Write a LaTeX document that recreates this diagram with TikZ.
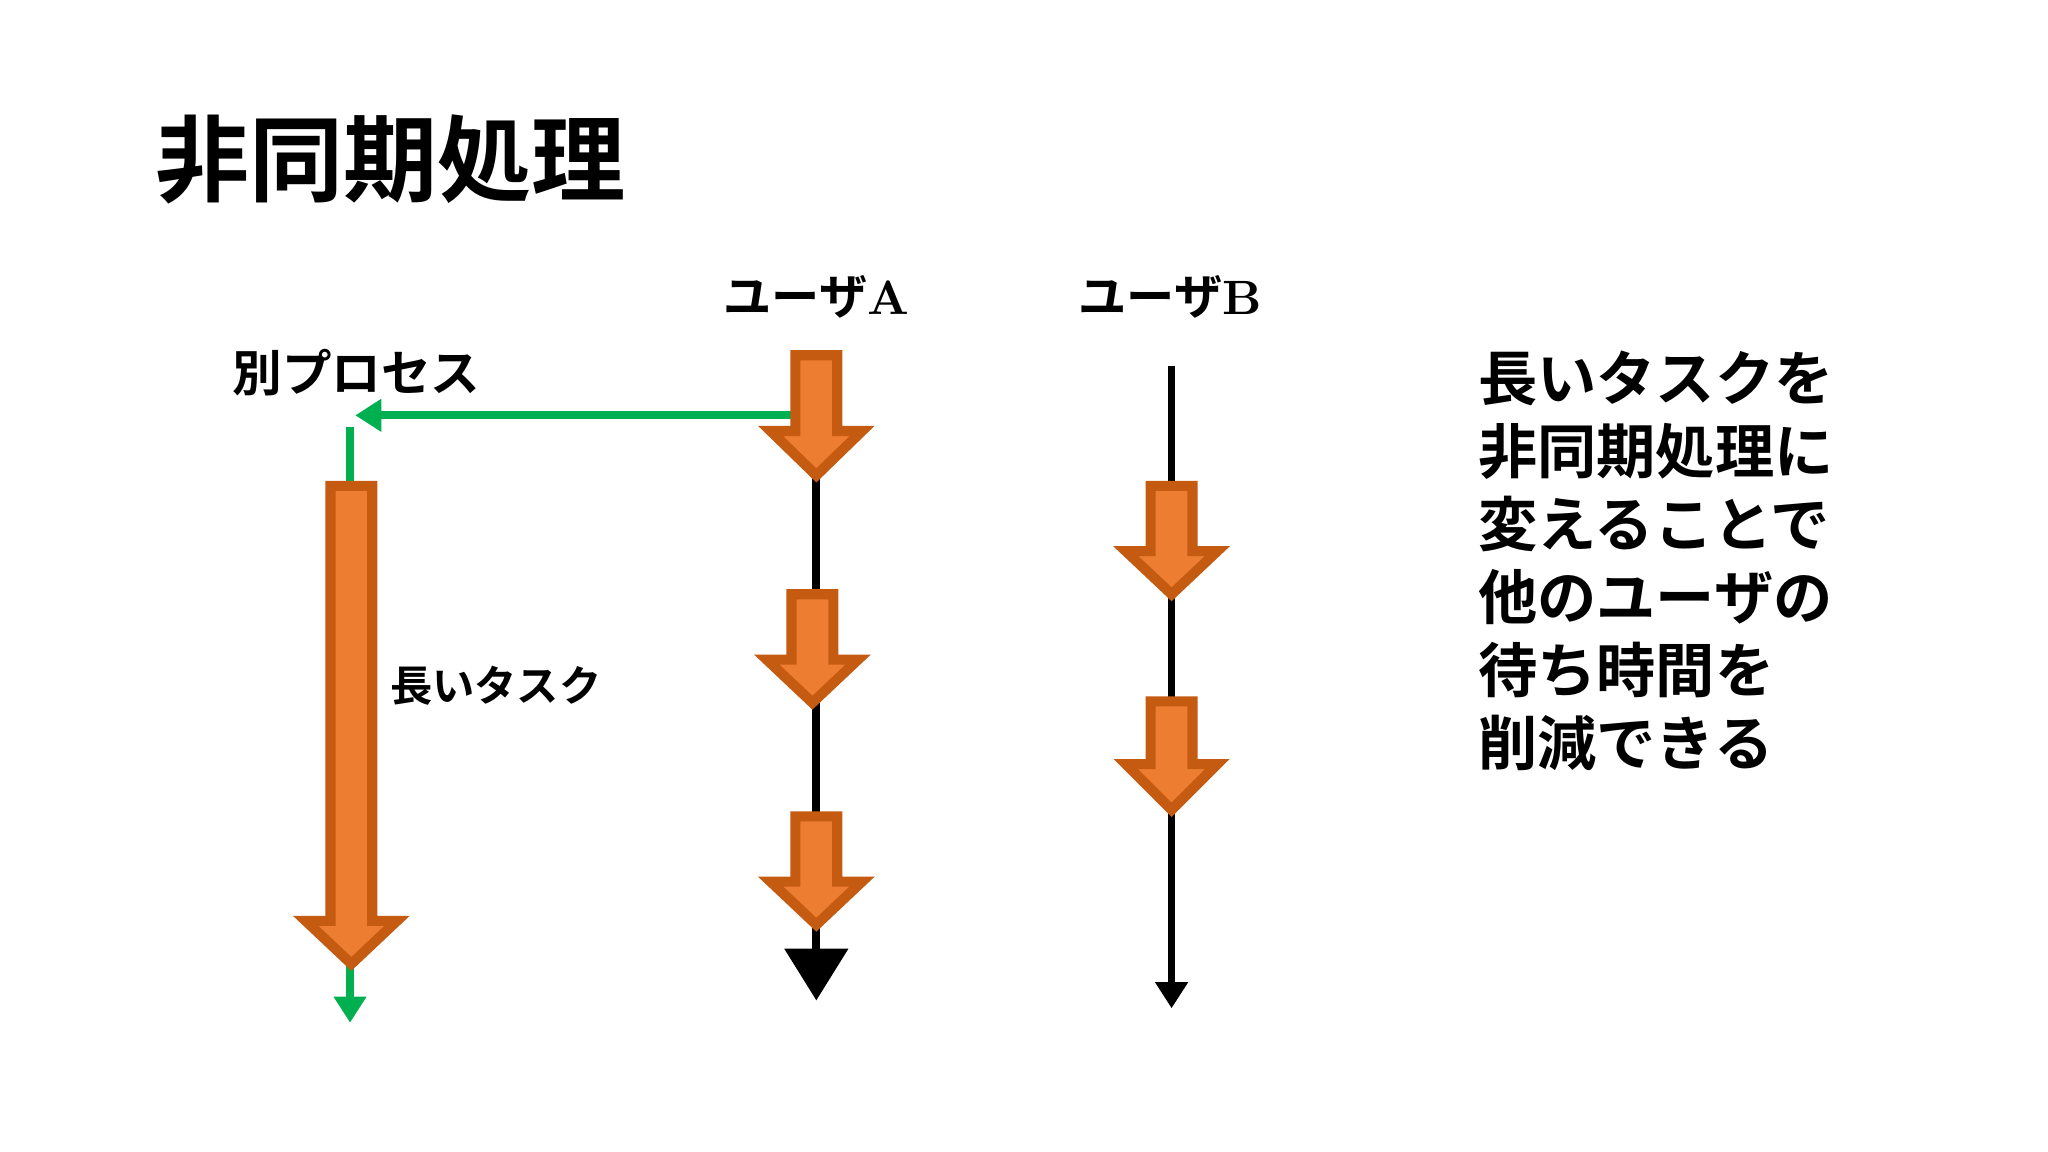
\documentclass[tikz,border=0pt]{standalone}
\usepackage{fontspec}
\newfontfamily\cjk{Noto Sans CJK JP}[BoldFont={Noto Sans CJK JP Bold}]
\usetikzlibrary{arrows.meta}
\definecolor{org}{HTML}{ED7D31}
\definecolor{orgd}{HTML}{C55A11}
\definecolor{grn}{HTML}{00B050}
\newcommand{\barrow}[4]{% cx, top, headstart, tip
  \draw[blockarrow] ({#1-16},#2) -- ({#1+16},#2) -- ({#1+16},#3) -- ({#1+35},#3) -- (#1,#4) -- ({#1-35},#3) -- ({#1-16},#3) -- cycle;}
\tikzset{blockarrow/.style={fill=org,draw=orgd,line width=2.2pt,line join=miter},
 gline/.style={draw=grn,line width=1.7pt},
 kline/.style={draw=black,line width=1.7pt},
 lbl/.style={font=\cjk\bfseries,inner sep=0pt}}
\begin{document}
\begin{tikzpicture}[x=0.01cm,y=-0.01cm]
\useasboundingbox[fill=white] (0,0) rectangle (1568,882);
\node[lbl,font=\cjk\bfseries\fontsize{20.5pt}{24pt}\selectfont,anchor=west] (title) at (118,122) {非同期処理};
\node[lbl,font=\cjk\bfseries\fontsize{10.5pt}{12pt}\selectfont] (ua) at (625,227) {ユーザ\textbf{\rmfamily A}};
\node[lbl,font=\cjk\bfseries\fontsize{10.5pt}{12pt}\selectfont] (ub) at (896,227) {ユーザ\textbf{\rmfamily B}};
\node[lbl,font=\cjk\bfseries\fontsize{10.8pt}{12pt}\selectfont] (bp) at (273,285) {別プロセス};
\node[lbl,font=\cjk\bfseries\fontsize{9.2pt}{11pt}\selectfont,anchor=west] (lt) at (298,525) {長いタスク};
\node[lbl,font=\cjk\bfseries\fontsize{12.9pt}{15.9pt}\selectfont,anchor=north west,align=left] (note) at (1131,268) {長いタスクを\\非同期処理に\\変えることで\\他のユーザの\\待ち時間を\\削減できる};
% coordinates
\coordinate (a0) at (625,360); \coordinate (a1) at (625,766);
\coordinate (b0) at (897,280); \coordinate (b1) at (897,772);
\coordinate (g0) at (608,318); \coordinate (g1) at (272,318);
\coordinate (g2) at (268,327); \coordinate (g3) at (268,372);
\coordinate (g4) at (268,735); \coordinate (g5) at (268,783);
% lines
\draw[kline,-{Triangle[length=16pt*0.0352*20,width=16pt*0.0352*24]}] (a0) -- (a1);
\draw[kline,-{Triangle[length=0.2cm,width=0.24cm]}] (b0) -- (b1);
\draw[gline,-{Triangle[length=0.2cm,width=0.24cm]}] (g0) -- (g1);
\draw[gline] (g2) -- (g3);
\draw[gline,-{Triangle[length=0.2cm,width=0.24cm]}] (g4) -- (g5);
% block arrows
\barrow{625}{272}{330}{364}
\barrow{622}{455}{505}{538}
\barrow{625}{625}{675}{708}
\barrow{897}{372}{422}{455}
\barrow{897}{537}{585}{620}
\barrow{269}{372}{705}{738}
\end{tikzpicture}
\end{document}
